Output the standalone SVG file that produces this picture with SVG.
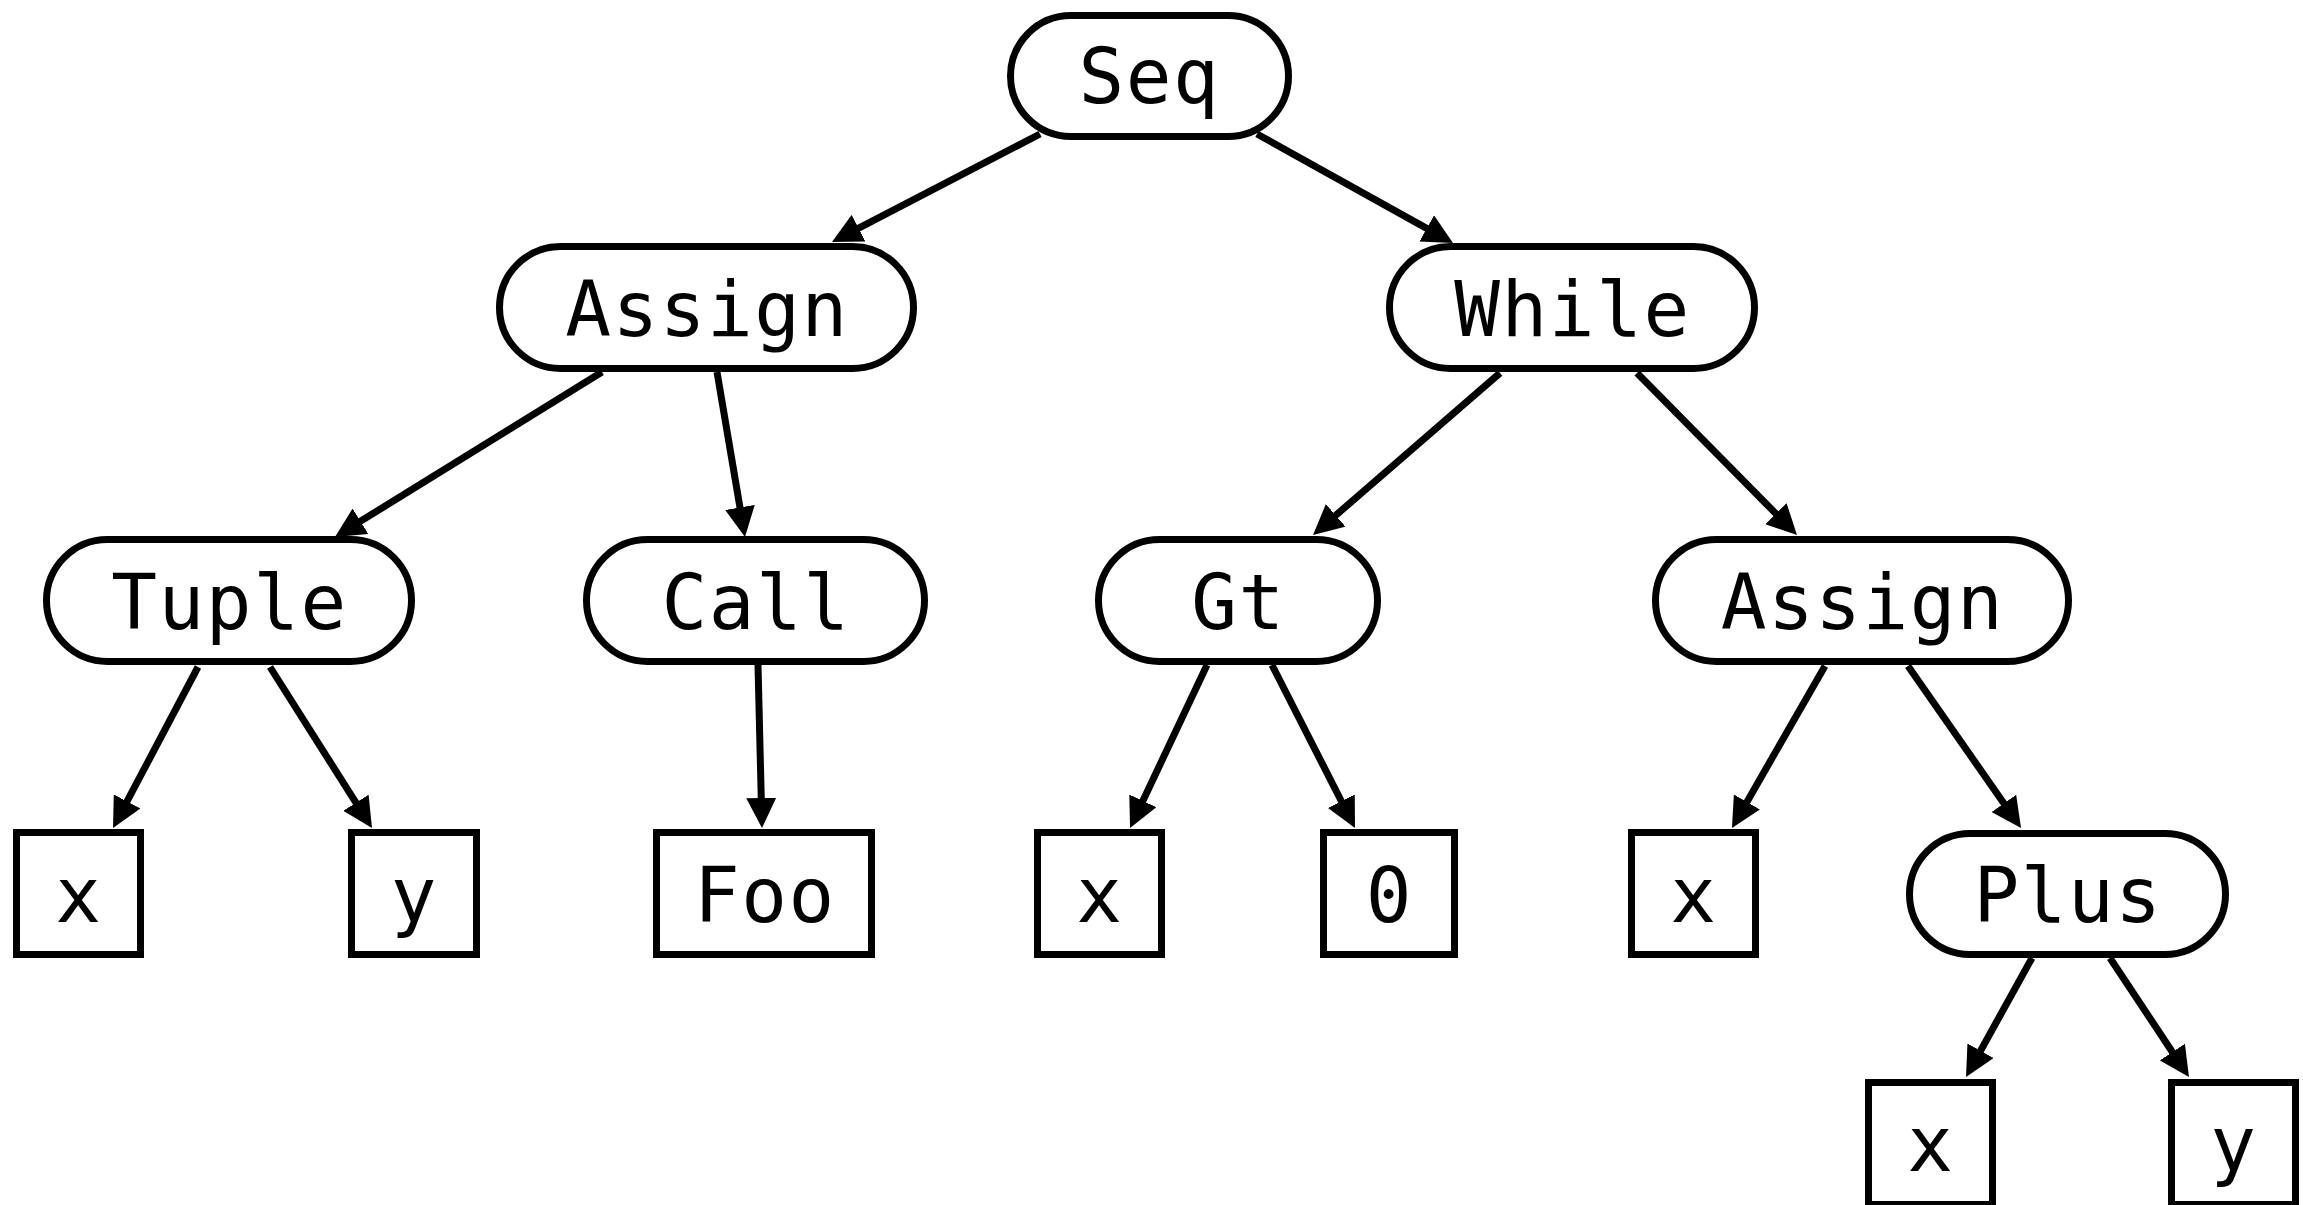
<svg xmlns="http://www.w3.org/2000/svg" width="2303" height="1205" viewBox="0 0 2303 1205">
  <style>
    .shape { fill: #ffffff; stroke: #000000; stroke-width: 7; }
    .label { font-family: "DejaVu Sans Mono", "Liberation Mono", monospace; font-size: 76px; letter-spacing: 1.5px; fill: #000000; text-anchor: middle; }
    .edge { fill: none; stroke: #000000; stroke-width: 7; marker-end: url(#arrow); }
  </style>
  <defs>
    <marker id="arrow" markerUnits="userSpaceOnUse" markerWidth="30" markerHeight="30" viewBox="0 0 30 30" refX="2" refY="15" orient="auto">
      <path d="M0,0 L30,15 L0,30 z" fill="#000000"/>
    </marker>
  </defs>
  <rect width="2303" height="1205" fill="#ffffff"/>

  <!-- connectors -->
  <g id="edges">
    <line class="edge" x1="1040" y1="134" x2="856.8" y2="229.1"/>
    <line class="edge" x1="1257" y1="134" x2="1428.5" y2="229.4"/>
    <line class="edge" x1="602" y1="372" x2="358.8" y2="522.3"/>
    <line class="edge" x1="717" y1="372" x2="740.3" y2="509.4"/>
    <line class="edge" x1="1500" y1="373" x2="1334.2" y2="516.7"/>
    <line class="edge" x1="1637" y1="373" x2="1777.3" y2="515.1"/>
    <line class="edge" x1="198" y1="667" x2="126.1" y2="803.2"/>
    <line class="edge" x1="270" y1="667" x2="357.0" y2="804.4"/>
    <line class="edge" x1="758" y1="665" x2="761.3" y2="800.0"/>
    <line class="edge" x1="1207" y1="665" x2="1142.0" y2="802.7"/>
    <line class="edge" x1="1272" y1="665" x2="1342.3" y2="803.0"/>
    <line class="edge" x1="1825" y1="666" x2="1745.9" y2="803.7"/>
    <line class="edge" x1="1908" y1="666" x2="2005.0" y2="805.0"/>
    <line class="edge" x1="2032" y1="958" x2="1979.6" y2="1052.5"/>
    <line class="edge" x1="2110" y1="958" x2="2173.5" y2="1053.7"/>
  </g>

  <!-- rounded operator nodes -->
  <g id="seq">
    <rect class="shape" x="1010.5" y="15.5" width="278" height="121" rx="60.5"/>
    <text class="label" x="1149.5" y="103">Seq</text>
  </g>
  <g id="assign1">
    <rect class="shape" x="499.5" y="246.5" width="414" height="122" rx="61"/>
    <text class="label" x="707" y="336">Assign</text>
  </g>
  <g id="while">
    <rect class="shape" x="1389.5" y="246.5" width="365" height="122" rx="61"/>
    <text class="label" x="1572.5" y="336">While</text>
  </g>
  <g id="tuple">
    <rect class="shape" x="46.5" y="539.5" width="365" height="122" rx="61"/>
    <text class="label" x="229.5" y="629">Tuple</text>
  </g>
  <g id="call">
    <rect class="shape" x="586.5" y="539.5" width="338" height="122" rx="61"/>
    <text class="label" x="756" y="629">Call</text>
  </g>
  <g id="gt">
    <rect class="shape" x="1098.5" y="539.5" width="279" height="122" rx="61"/>
    <text class="label" x="1238.5" y="629">Gt</text>
  </g>
  <g id="assign2">
    <rect class="shape" x="1655.5" y="539.5" width="413" height="122" rx="61"/>
    <text class="label" x="1862.5" y="629">Assign</text>
  </g>
  <g id="plus">
    <rect class="shape" x="1909.5" y="833.5" width="316" height="121" rx="60.5"/>
    <text class="label" x="2068" y="922">Plus</text>
  </g>

  <!-- leaf boxes -->
  <g id="x1">
    <rect class="shape" x="16.5" y="832.5" width="124" height="122"/>
    <text class="label" x="79" y="922">x</text>
  </g>
  <g id="y1">
    <rect class="shape" x="351.5" y="832.5" width="125" height="122"/>
    <text class="label" x="414.5" y="922">y</text>
  </g>
  <g id="foo">
    <rect class="shape" x="656.5" y="832.5" width="215" height="122"/>
    <text class="label" x="765" y="922">Foo</text>
  </g>
  <g id="x2">
    <rect class="shape" x="1037.5" y="832.5" width="124" height="122"/>
    <text class="label" x="1100" y="922">x</text>
  </g>
  <g id="zero">
    <rect class="shape" x="1323.5" y="832.5" width="131" height="122"/>
    <text class="label" x="1389.5" y="922">0</text>
  </g>
  <g id="x3">
    <rect class="shape" x="1631.5" y="832.5" width="124" height="122"/>
    <text class="label" x="1694" y="922">x</text>
  </g>
  <g id="x4">
    <rect class="shape" x="1868.5" y="1082.5" width="124" height="122"/>
    <text class="label" x="1931" y="1171">x</text>
  </g>
  <g id="y4">
    <rect class="shape" x="2171.5" y="1082.5" width="124" height="122"/>
    <text class="label" x="2234" y="1171">y</text>
  </g>
</svg>
